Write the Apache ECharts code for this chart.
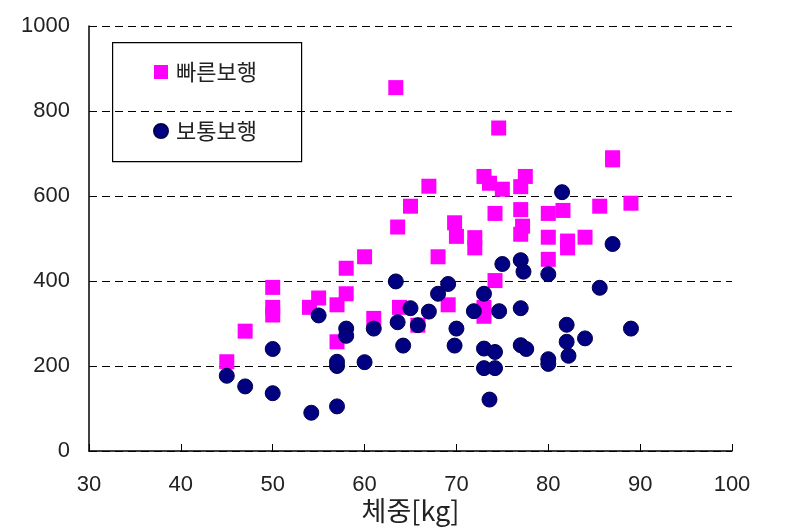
<!DOCTYPE html>
<html>
<head>
<meta charset="utf-8">
<script src="https://cdn.jsdelivr.net/npm/echarts@6/dist/echarts.min.js"></script>
<style>html,body{margin:0;padding:0;background:#fff}#c{width:793px;height:528px}</style>
</head>
<body>
<div id="c"></div>
<script>
// 빠른보행 (fast walking)
const fastWeight = [45,47,50,50,50,54,55,57,58,58,57,60,61,63.8,65.8,68,69.1,63.4,67,65,63.6,69.8,70,72,72,73,73.6,75,77.5,77,85.6,89,74.2,77,80,81.6,77.2,77,80,82.1,82.1,84,80,74.2,73,73,74.6,87,87];
const fastValue  = [210,282,385,338,320,338,360,344,430,370,257,457,312,338,296,457,344,855,623,576,527,537,505,502,478,646,630,616,646,622,576,583,559,568,559,566,529,510,503,494,478,503,451,401,338,317,760,690,685];
// 보통보행 (normal walking)
const normalWeight = [45,47,50,50,54.2,57,55,57,57,58,58,60,61,63.4,63.6,64.2,65,65.8,67,68,69.1,70,69.8,71.9,73,74.65,77,75,77,77.3,80,81.5,85.6,87,73,74.2,73,74.2,73.6,77,77.6,80,80,82,82,82.2,84,89];
const normalValue  = [177,152,136,240,90,105,319,200,210,288,271,209,288,399,303,248,336,296,328,370,393,288,248,329,370,329,336,440,449,422,416,609,384,487,241,233,195,195,121,249,240,216,205,297,257,224,265,288];
const seriesNames = ['빠른보행','보통보행'];
const xAxisName = '체중[kg]';

const pair = (xs, ys) => xs.map((x, i) => [x, ys[i]]);
const numFont = 'Liberation Sans';
const krFont = 'Noto Sans CJK KR';

const chart = echarts.init(document.getElementById('c'), null, {renderer: 'canvas'});
chart.setOption({
  animation: false,
  backgroundColor: '#ffffff',
  grid: {left: 89, right: 61, top: 26, bottom: 77, containLabel: false, outerBoundsMode: 'none'},
  xAxis: {
    type: 'value', min: 30, max: 100, interval: 10,
    name: xAxisName, nameLocation: 'middle', nameGap: 46, nameMoveOverlap: false,
    nameTextStyle: {fontFamily: krFont, fontSize: 27, color: '#222'},
    axisLine: {show: true, onZero: false, lineStyle: {color: '#000', width: 1.5}},
    axisTick: {show: true, inside: true, length: 7, lineStyle: {color: '#000', width: 1}},
    axisLabel: {fontFamily: numFont, fontSize: 22, color: '#222', margin: 23, formatter: v => String(v)},
    splitLine: {show: false}
  },
  yAxis: {
    type: 'value', min: 0, max: 1000, interval: 200,
    axisLine: {show: true, lineStyle: {color: '#000', width: 1.5}},
    axisTick: {show: false},
    axisLabel: {fontFamily: numFont, fontSize: 22, color: '#222', margin: 19, formatter: v => String(v)},
    splitLine: {show: true, lineStyle: {color: '#000', width: 1, type: [8, 5]}}
  },
  legend: {
    orient: 'vertical', left: 153, top: 61, padding: 0,
    itemWidth: 14, itemHeight: 14, itemGap: 37,
    textStyle: {fontFamily: krFont, fontSize: 22, color: '#222', padding: [0, 0, 0, 3]},
    data: [
      {name: seriesNames[0], icon: 'rect'},
      {name: seriesNames[1], icon: 'circle'}
    ]
  },
  graphic: [{
    type: 'rect', left: 112, top: 42,
    shape: {width: 189, height: 119},
    style: {fill: '#fff', stroke: '#000', lineWidth: 1.2},
    z: -1
  }],
  series: [
    {
      name: seriesNames[0], type: 'scatter', symbol: 'rect', symbolSize: 15,
      itemStyle: {color: '#ff00ff', opacity: 1},
      data: pair(fastWeight, fastValue), z: 2
    },
    {
      name: seriesNames[1], type: 'scatter', symbol: 'circle', symbolSize: 15,
      itemStyle: {color: '#000080', borderColor: '#000050', borderWidth: 1, opacity: 1},
      data: pair(normalWeight, normalValue), z: 3
    }
  ]
});
</script>
</body>
</html>
